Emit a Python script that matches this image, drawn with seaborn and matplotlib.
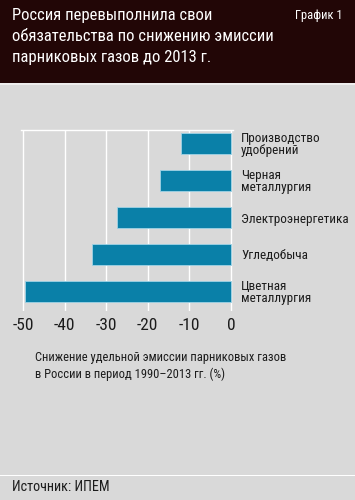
import matplotlib
matplotlib.use("Agg")
import matplotlib.pyplot as plt
import seaborn as sns
import pandas as pd
from matplotlib.patches import Rectangle
from matplotlib import font_manager

categories = ["Производство\nудобрений", "Черная\nметаллургия", "Электроэнергетика",
              "Угледобыча", "Цветная\nметаллургия"]
values = [-12, -17, -27.5, -33.5, -49.6]
xticks = [-50, -40, -30, -20, -10, 0]

title_lines = "Россия перевыполнила свои\nобязательства по снижению эмиссии\nпарниковых газов до 2013 г."
tag = "График 1"
caption = "Снижение удельной эмиссии парниковых газов\nв России в период 1990–2013 гг. (%)"
source = "Источник: ИПЕМ"

sns.set_theme(style="white")
names = {f.name for f in font_manager.fontManager.ttflist}
fam = [f for f in ["Roboto Condensed", "Liberation Sans Narrow", "Roboto", "DejaVu Sans"] if f in names]
plt.rcParams["font.family"] = fam

BG = "#d9d9d9"
HEAD = "#220606"
BAR = "#0a80a8"
TXT = "#1c1c1c"

fig = plt.figure(figsize=(3.55, 5.0), dpi=100)
fig.patch.set_facecolor(BG)
W, H = 355, 500

def fx(px):
    return px / W

def fy(py):
    return 1 - py / H

fig.patches.append(Rectangle((0, fy(83)), 1, 83 / H, transform=fig.transFigure,
                             facecolor=HEAD, edgecolor="none", zorder=0))
fig.patches.append(Rectangle((0, fy(85)), 1, 2 / H, transform=fig.transFigure,
                             facecolor="#eeeeee", edgecolor="none", zorder=0))
fig.patches.append(Rectangle((0, fy(476)), 1, 1.5 / H, transform=fig.transFigure,
                             facecolor="white", edgecolor="none", zorder=0))

fig.text(fx(12), fy(8), title_lines, color="white", fontsize=12.0, va="top", ha="left",
         linespacing=1.5)
fig.text(fx(343), fy(9), tag, color="white", fontsize=9, va="top", ha="right")

ax = fig.add_axes([fx(20.5), fy(311), fx(232.7) - fx(20.5), (311 - 130) / H])
ax.set_facecolor(BG)

df = pd.DataFrame({"cat": categories, "val": values})
sns.barplot(data=df, x="val", y="cat", orient="h", color=BAR, width=0.57,
            edgecolor="#9fd3e6", linewidth=0.6, saturation=1, ax=ax, zorder=3)

ax.set_xlim(-50.6, 0.45)
ax.set_ylim(4.53, -0.37)
ax.set_xticks(xticks)
ax.set_xticklabels([str(t) for t in xticks], fontsize=12.5, color=TXT)
ax.grid(axis="x", color="white", linewidth=1.0, zorder=0)
ax.set_axisbelow(True)
ax.yaxis.tick_right()
ax.tick_params(axis="y", length=0, pad=6, labelsize=9.5, labelcolor=TXT)
ax.tick_params(axis="x", length=0, pad=5)
for lbl in ax.get_yticklabels():
    lbl.set_linespacing(0.9)
ax.set_xlabel("")
ax.set_ylabel("")
for s in ["left", "right", "bottom"]:
    ax.spines[s].set_visible(False)
ax.spines["top"].set_color("white")
ax.spines["top"].set_linewidth(1.0)

fig.text(fx(35), fy(351), caption, color=TXT, fontsize=9.0, va="top", ha="left",
         linespacing=1.35)
fig.text(fx(12), fy(487), source, color=TXT, fontsize=10.2, va="center", ha="left")

fig.savefig("out.png", dpi=100, facecolor=BG)
